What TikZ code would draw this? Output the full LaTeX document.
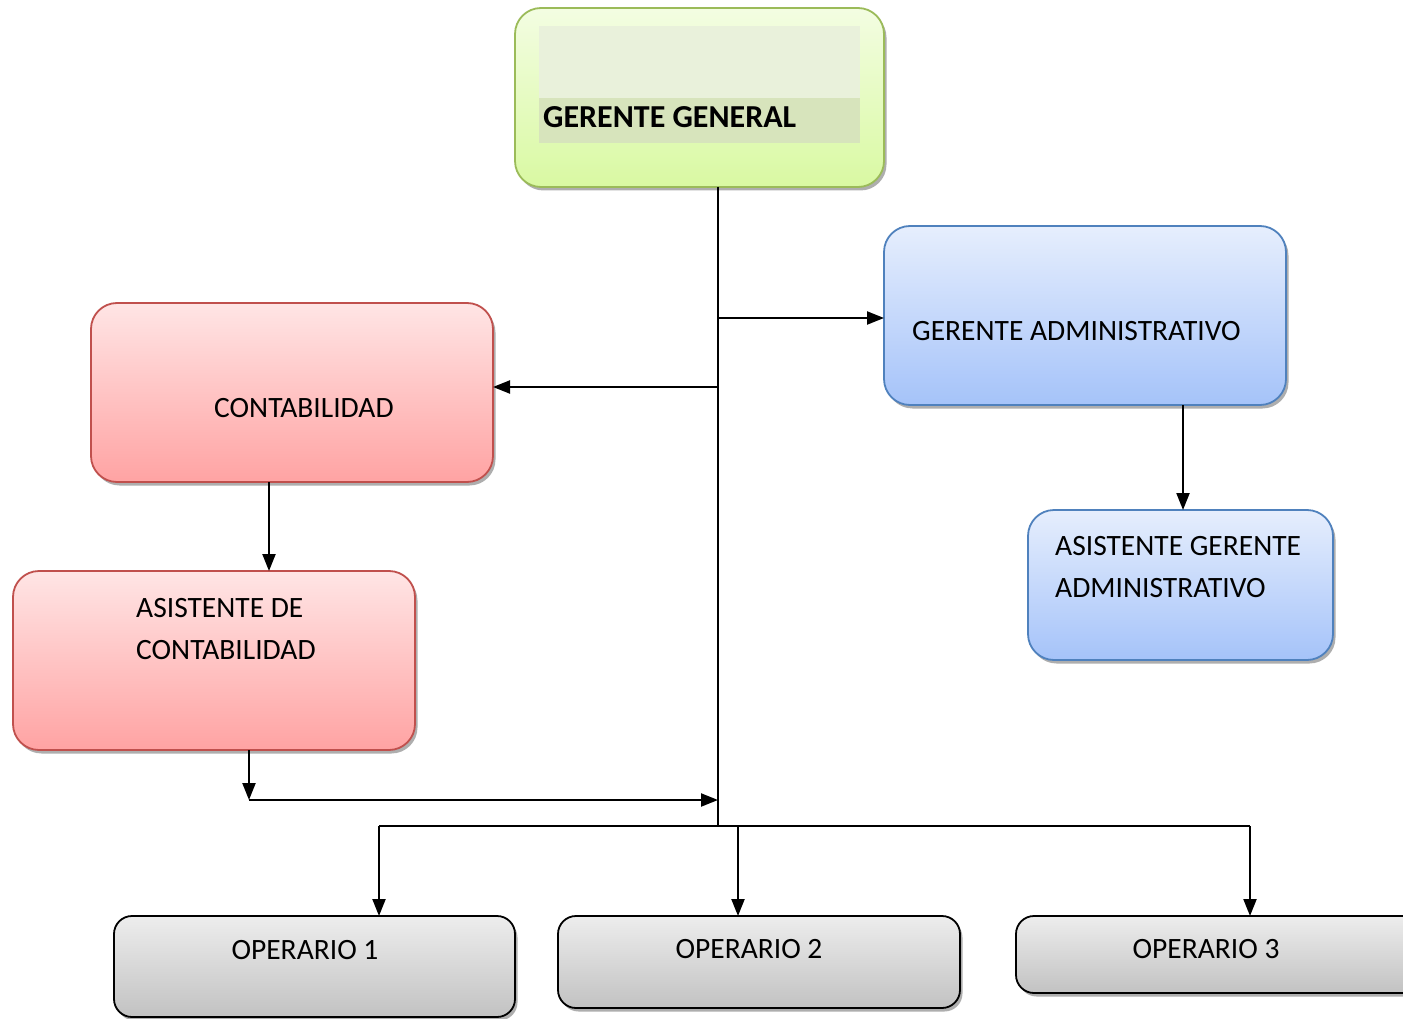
\documentclass[tikz,border=0pt]{standalone}
\usepackage{fontspec}
\setmainfont{Carlito}
\usetikzlibrary{arrows.meta,shadows}

\definecolor{grnTop}{HTML}{F3FDE2}
\definecolor{grnBot}{HTML}{D9F9A2}
\definecolor{grnLine}{HTML}{9BBB59}
\definecolor{grnBandA}{HTML}{E9F1DB}
\definecolor{grnBandB}{HTML}{D7E4BC}
\definecolor{bluTop}{HTML}{E6EEFD}
\definecolor{bluBot}{HTML}{A5C3F9}
\definecolor{bluLine}{HTML}{4F81BD}
\definecolor{redTop}{HTML}{FFE5E5}
\definecolor{redBot}{HTML}{FFA3A3}
\definecolor{redLine}{HTML}{C0504D}
\definecolor{gryTop}{HTML}{EDEDED}
\definecolor{gryBot}{HTML}{C2C2C2}

\tikzset{
  orgbox/.style={draw, line width=1.8pt, rounded corners=26pt, outer sep=0pt,
    inner sep=0pt, drop shadow={shadow xshift=2.5pt, shadow yshift=-3.5pt,
    fill=black!45, opacity=0.7}},
  greenbox/.style={orgbox, draw=grnLine, top color=grnTop, bottom color=grnBot},
  bluebox/.style={orgbox, draw=bluLine, top color=bluTop, bottom color=bluBot},
  redbox/.style={orgbox, draw=redLine, top color=redTop, bottom color=redBot},
  greybox/.style={orgbox, rounded corners=18pt, draw=black, top color=gryTop, bottom color=gryBot},
  txt/.style={inner sep=0pt, anchor=base west, font=\fontsize{29.5}{35}\selectfont},
  ctxt/.style={inner sep=0pt, anchor=base, font=\fontsize{29.5}{35}\selectfont},
  link/.style={line width=2.2pt},
  arr/.style={link, -{Triangle[length=17pt,width=13pt]}}
}

\begin{document}
\begin{tikzpicture}[x=1pt,y=-1pt]
\clip (0,0) rectangle (1403,1019);

% boxes
\node[greenbox, minimum width=369pt, minimum height=179pt] (gg) at (699.5,97.5) {};
\fill[grnBandA] (539,26) rectangle (860,98);
\fill[grnBandB] (539,98) rectangle (860,143);
\node[txt, font=\fontsize{32}{38}\selectfont\bfseries] (ggt) at (543,128) {GERENTE GENERAL};

\node[bluebox, minimum width=402pt, minimum height=179pt] (ga) at (1085,315.5) {};
\node[txt] (gat) at (912,340) {GERENTE ADMINISTRATIVO};

\node[redbox, minimum width=402pt, minimum height=179pt] (ct) at (292,392.5) {};
\node[txt] (ctt) at (214,417) {CONTABILIDAD};

\node[redbox, minimum width=402pt, minimum height=179pt] (ac) at (214,660.5) {};
\node[txt] (act1) at (136,617) {ASISTENTE DE};
\node[txt] (act2) at (136,659) {CONTABILIDAD};

\node[bluebox, minimum width=305pt, minimum height=150pt] (ag) at (1180.5,585) {};
\node[txt] (agt1) at (1055,555) {ASISTENTE GERENTE};
\node[txt] (agt2) at (1055,597) {ADMINISTRATIVO};

\node[greybox, minimum width=401pt, minimum height=101pt] (op1) at (314.5,966.5) {};
\node[ctxt] (op1t) at (305,959) {OPERARIO 1};
\node[greybox, minimum width=402pt, minimum height=92pt] (op2) at (759,962) {};
\node[ctxt] (op2t) at (749,958) {OPERARIO 2};
\node[greybox, minimum width=420pt, minimum height=77pt] (op3) at (1226,954.5) {};
\node[ctxt] (op3t) at (1206,958) {OPERARIO 3};

% connector junctions
\coordinate (trunk) at (718,826);
\coordinate (jga) at (718,318);
\coordinate (jct) at (718,387);
\coordinate (xct) at (269,0);
\coordinate (xga) at (1183,0);
\coordinate (drop) at (249,800);
\coordinate (jac) at (718,800);
\coordinate (b1) at (379,826);
\coordinate (b2) at (738,826);
\coordinate (b3) at (1250,826);

% connectors
\draw[link] (gg.south -| trunk) -- (trunk);
\draw[arr] (jga) -- (jga -| ga.west);
\draw[arr] (jct) -- (jct -| ct.east);
\draw[arr] (xct |- ct.south) -- (xct |- ac.north);
\draw[arr] (xga |- ga.south) -- (xga |- ag.north);
\draw[arr] (drop |- ac.south) -- (drop);
\draw[arr] (drop) -- (jac);
\draw[link] (b1) -- (b3);
\draw[arr] (b1) -- (b1 |- op1.north);
\draw[arr] (b2) -- (b2 |- op2.north);
\draw[arr] (b3) -- (b3 |- op3.north);
\end{tikzpicture}
\end{document}
